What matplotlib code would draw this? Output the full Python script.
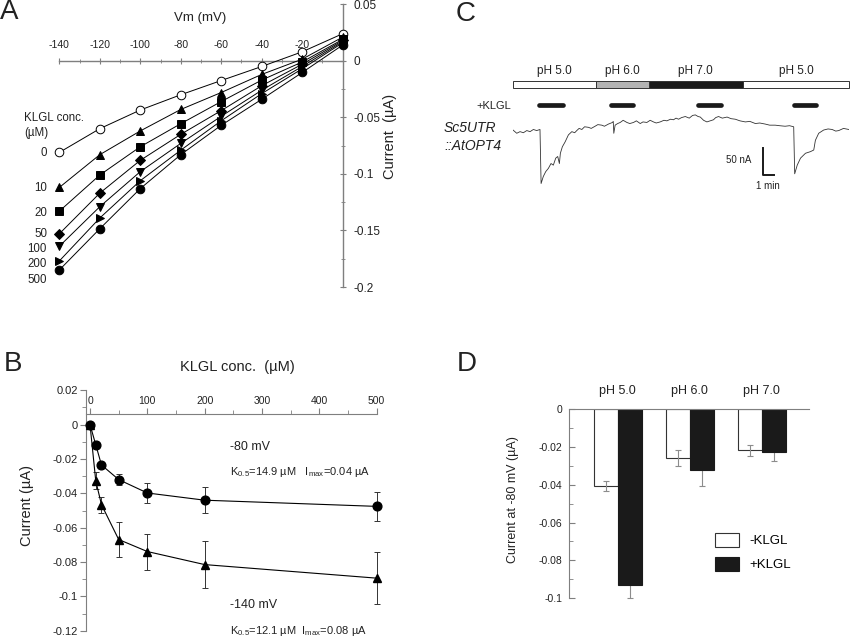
import matplotlib
matplotlib.use('Agg')
import matplotlib.pyplot as plt
import numpy as np
from matplotlib.patches import Patch
from matplotlib.ticker import MultipleLocator

plt.rcParams['font.family'] = ['Liberation Sans', 'DejaVu Sans']
plt.rcParams['mathtext.default'] = 'regular'

# ---- panel A: I-V curves at different KLGL concentrations
vm = [-140, -120, -100, -80, -60, -40, -20, 0]
klgl_conc = ['0', '10', '20', '50', '100', '200', '500']
iv_current = [
    [-0.081, -0.060, -0.0435, -0.030, -0.0174, -0.005, 0.008, 0.024],
    [-0.112, -0.083, -0.062, -0.043, -0.028, -0.012, 0.0015, 0.021],
    [-0.133, -0.101, -0.076, -0.0556, -0.036, -0.017, -0.001, 0.019],
    [-0.153, -0.117, -0.088, -0.065, -0.044, -0.022, -0.003, 0.018],
    [-0.164, -0.129, -0.098, -0.073, -0.049, -0.026, -0.005, 0.017],
    [-0.177, -0.139, -0.106, -0.079, -0.053, -0.029, -0.007, 0.016],
    [-0.185, -0.1485, -0.113, -0.083, -0.057, -0.034, -0.0103, 0.014],
]
iv_markers = ['o', '^', 's', 'D', 'v', '>', 'o']

# ---- panel B: dose response
conc = [0, 10, 20, 50, 100, 200, 500]
i_80 = [0, -0.0117, -0.0235, -0.032, -0.0398, -0.044, -0.0476]
i_80_err = [0, 0.0015, 0.002, 0.003, 0.006, 0.0074, 0.0085]
i_140 = [0, -0.0327, -0.0466, -0.0669, -0.0739, -0.0815, -0.0894]
i_140_err = [0, 0.005, 0.0047, 0.010, 0.0105, 0.0135, 0.0153]

# ---- panel C: current trace (time in min, current in nA)
trace_t = [0.0, 0.34, 0.64, 0.94, 1.25, 1.55, 1.85, 2.15, 2.45, 2.55, 2.75, 2.97,
           3.21, 3.45, 3.66, 3.88, 4.06, 4.21, 4.3, 4.48, 4.73, 5.03, 5.34, 5.6,
           5.79, 6.0, 6.25, 6.5, 6.85, 7.1, 7.45, 7.7, 8.06, 8.3, 8.66, 9.03,
           9.1, 9.15, 9.27, 9.5, 9.73, 10.0, 10.34, 10.6, 10.94, 11.2, 11.55,
           11.8, 12.15, 12.45, 12.75, 13.0, 13.36, 13.7, 13.97, 14.3, 14.57,
           14.8, 15.03, 15.3, 15.64, 16.0, 16.3, 16.55, 16.8, 17.0, 17.3, 17.6,
           17.9, 18.2, 18.4, 18.66, 19.0, 19.43, 19.8, 20.18, 20.6, 21.09, 21.5,
           22.0, 22.4, 22.9, 23.3, 23.8, 24.2, 24.7, 25.1, 25.48, 25.57, 25.8,
           26.1, 26.55, 27.0, 27.3, 27.45, 27.75, 28.2, 28.6, 28.97, 29.3,
           29.57, 30.0, 30.48]
trace_i = [0, -6, -3, -5, -1, -3, 1, -1, 1, -99, -86, -77,
           -71, -62, -65, -52, -49, -62, -43, -31, -22, -9, -3, -5,
           -1, 3, 1, 6, 5, 3, 7, 10, 9, 7, 11, 14,
           16, -6, 9, 12, 14, 18, 14, 12, 14, 17, 12,
           15, 14, 18, 15, 13, 15, 18, 17, 20, 19,
           22, 20, 23, 25, 22, 27, 28, 25, 24, 18, 15,
           17, 19, 23, 25, 22, 24, 21, 20, 17, 15, 16,
           12, 13, 11, 9, 9, 8, 7, 8, 6, -81, -65,
           -52, -43, -40, -37, -19, -6, 0, 2, 1, -2,
           -1, 3, 1]
ph_labels = ['pH 5.0', 'pH 6.0', 'pH 7.0', 'pH 5.0']
ph_edges = [0, 7.5, 12.3, 20.9, 30.5]
ph_colors = ['white', '#b3b3b3', '#1a1a1a', 'white']
klgl_on = [2.4, 8.9, 16.8, 25.5]
klgl_off = [4.5, 10.9, 18.9, 27.5]

# ---- panel D: pH dependence at -80 mV
ph_groups = ['pH 5.0', 'pH 6.0', 'pH 7.0']
minus_klgl = [-0.0407, -0.0258, -0.0218]
minus_err = [0.0026, 0.0042, 0.0027]
plus_klgl = [-0.0932, -0.0322, -0.0225]
plus_err = [0.0067, 0.0083, 0.0047]

W, H = 850, 640
fig = plt.figure(figsize=(W / 100, H / 100), dpi=100)


def box(x0, y0, x1, y1):
    return [x0 / W, 1 - y1 / H, (x1 - x0) / W, (y1 - y0) / H]


def ftext(x, y, s, **kw):
    fig.text(x / W, 1 - y / H, s, **kw)


axis_grey = '#7f7f7f'
txt = '#222222'

# ================= A
ax = fig.add_axes(box(59.3, 4.3, 342.7, 287))
ax.set_xlim(-140, 0)
ax.set_ylim(-0.2, 0.05)
for s in ['left', 'bottom']:
    ax.spines[s].set_visible(False)
ax.spines['top'].set_position(('data', 0))
for s in ['top', 'right']:
    ax.spines[s].set_color(axis_grey)
    ax.spines[s].set_linewidth(1)
ax.xaxis.tick_top()
ax.yaxis.tick_right()
ax.xaxis.set_major_locator(MultipleLocator(20))
ax.xaxis.set_minor_locator(MultipleLocator(10))
ax.yaxis.set_major_locator(MultipleLocator(0.05))
ax.yaxis.set_minor_locator(MultipleLocator(0.025))
ax.tick_params(which='both', direction='inout', color=axis_grey,
               labelcolor=txt)
ax.tick_params(axis='x', labelsize=7.5, pad=5)
ax.tick_params(axis='y', labelsize=8.5, pad=5)
ax.tick_params(which='major', length=5)
ax.tick_params(which='minor', length=3)
ax.set_xticks([-140, -120, -100, -80, -60, -40, -20])
ax.set_xticklabels(['-140', '-120', '-100', '-80', '-60', '-40', '-20'])
ax.set_yticks([0.05, 0, -0.05, -0.1, -0.15, -0.2])
ax.set_yticklabels(['0.05', '0', '-0.05', '-0.1', '-0.15', '-0.2'])
for k, (vals, m) in enumerate(zip(iv_current, iv_markers)):
    face = 'white' if k == 0 else 'black'
    ms = 4.8 if m == 'D' else 6.2
    ax.plot(vm, vals, '-', color='black', lw=0.7, marker=m, ms=ms,
            mfc=face, mec='black', mew=0.7, clip_on=False, zorder=3 + k)

ftext(200, 18, 'Vm (mV)', fontsize=9.5, ha='center', va='center', color=txt)
ftext(390, 136, 'Current  (µA)', fontsize=10.5, ha='center', va='center',
      rotation=90, color=txt)
ftext(0, 12, 'A', fontsize=20, ha='left', va='center', color=txt)
ftext(24, 118, 'KLGL conc.', fontsize=8.3, ha='left', va='center', color=txt)
ftext(24, 133, '(µM)', fontsize=8.3, ha='left', va='center', color=txt)
legend_y = [152.7, 188.3, 212.7, 234.3, 249.3, 264.3, 280]
for lab, yy in zip(klgl_conc, legend_y):
    ftext(47, yy, lab, fontsize=8.3, ha='right', va='center', color=txt)

# ================= B
ax = fig.add_axes(box(86, 390.3, 376.7, 630.7))
ax.set_xlim(-7, 500)
ax.set_ylim(-0.12, 0.02)
for s in ['right', 'bottom']:
    ax.spines[s].set_visible(False)
ax.spines['top'].set_position(('data', 0.0062))
for s in ['top', 'left']:
    ax.spines[s].set_color(axis_grey)
ax.xaxis.tick_top()
ax.xaxis.set_major_locator(MultipleLocator(100))
ax.xaxis.set_minor_locator(MultipleLocator(50))
ax.yaxis.set_major_locator(MultipleLocator(0.02))
ax.yaxis.set_minor_locator(MultipleLocator(0.01))
ax.tick_params(which='both', direction='out', color=axis_grey,
               labelcolor=txt)
ax.tick_params(axis='x', labelsize=7.5)
ax.tick_params(axis='y', labelsize=8)
ax.tick_params(which='major', length=4, pad=2)
ax.tick_params(which='minor', length=3)
ax.set_yticks([0.02, 0, -0.02, -0.04, -0.06, -0.08, -0.1, -0.12])
ax.set_yticklabels(['0.02', '0', '-0.02', '-0.04', '-0.06', '-0.08', '-0.1',
                    '-0.12'])
ax.errorbar(conc, i_80, yerr=i_80_err, fmt='-o', color='black', lw=0.8,
            ms=6.3, elinewidth=0.7, ecolor='#333333', capsize=2.5,
            capthick=0.7, clip_on=False, zorder=4)
ax.errorbar(conc, i_140, yerr=i_140_err, fmt='-^', color='black', lw=0.8,
            ms=6, elinewidth=0.7, ecolor='#333333', capsize=2.5,
            capthick=0.7, clip_on=False, zorder=3)

ftext(237, 366.7, 'KLGL conc.  (µM)', fontsize=10.5, ha='center',
      va='center', color=txt)
ftext(27, 505, 'Current (µA)', fontsize=10.5, ha='center', va='center',
      rotation=90, color=txt)
ftext(4, 364, 'B', fontsize=20, ha='left', va='center', color=txt)
ftext(230, 446.7, '-80 mV', fontsize=9, ha='left', va='center', color=txt)
ftext(230, 471.7, 'K$_{0.5}$=14.9 µM   I$_{max}$=0.04 µA', fontsize=8,
      ha='left', va='center', color=txt)
ftext(230, 605, '-140 mV', fontsize=9, ha='left', va='center', color=txt)
ftext(230, 631, 'K$_{0.5}$=12.1 µM  I$_{max}$=0.08 µA', fontsize=8,
      ha='left', va='center', color=txt)

# ================= C
ax = fig.add_axes(box(513, 60, 849, 190))
ax.set_xlim(0, 30.5)
ax.set_ylim(-111, 129.6)
ax.axis('off')
for k in range(len(ph_labels)):
    x0, x1 = ph_edges[k], ph_edges[k + 1]
    ax.add_patch(plt.Rectangle((x0, 77.2), x1 - x0, 13.5,
                               facecolor=ph_colors[k], edgecolor='#333333',
                               lw=0.7, clip_on=False))
    ax.text((x0 + x1) / 2, 109, ph_labels[k], fontsize=8.5, ha='center',
            va='center', color=txt)
for t0, t1 in zip(klgl_on, klgl_off):
    ax.plot([t0, t1], [47, 47], color='#1a1a1a', lw=3.4,
            solid_capstyle='round')
ax.plot(trace_t, trace_i, color='#333333', lw=0.6)
# scale bar: 50 nA, 1 min
ax.plot([22.66, 22.66, 23.66], [-33.3, -83.3, -83.3], color='#1a1a1a',
        lw=1.4)
ax.text(20.5, -55.6, '50 nA', fontsize=7, ha='center', va='center',
        color=txt)
ax.text(23.15, -103, '1 min', fontsize=7, ha='center', va='center',
        color=txt)
ftext(510.7, 106, '+KLGL', fontsize=8, ha='right', va='center', color=txt)
ftext(444, 128.3, 'Sc5UTR', fontsize=10, ha='left', va='center',
      style='italic', color=txt)
ftext(444, 145.7, '::AtOPT4', fontsize=10, ha='left', va='center',
      style='italic', color=txt)
ftext(456, 14, 'C', fontsize=20, ha='left', va='center', color=txt)

# ================= D
ax = fig.add_axes(box(569.3, 409.3, 809.3, 598))
xpos = np.arange(1, len(ph_groups) + 1)
bw = 1 / 3
ax.set_xlim(1 - 0.672, 3 + 0.661)
ax.set_ylim(-0.1, 0)
for s in ['right', 'bottom']:
    ax.spines[s].set_visible(False)
for s in ['top', 'left']:
    ax.spines[s].set_color(axis_grey)
ax.set_xticks([])
ax.yaxis.set_major_locator(MultipleLocator(0.02))
ax.yaxis.set_minor_locator(MultipleLocator(0.01))
ax.tick_params(which='both', direction='in', color=axis_grey, labelsize=7.5,
               labelcolor=txt, pad=5)
ax.tick_params(which='major', length=4)
ax.tick_params(which='minor', length=3)
ax.set_yticks([0, -0.02, -0.04, -0.06, -0.08, -0.1])
ax.set_yticklabels(['0', '-0.02', '-0.04', '-0.06', '-0.08', '-0.1'])
ax.bar(xpos - bw / 2, minus_klgl, width=bw, color='white', edgecolor='#333333',
       lw=0.8, zorder=2, label='-KLGL')
ax.bar(xpos + bw / 2, plus_klgl, width=bw, color='#1a1a1a',
       edgecolor='#1a1a1a', lw=0.8, zorder=2, label='+KLGL')
ax.errorbar(xpos - bw / 2, minus_klgl, yerr=minus_err, fmt='none',
            ecolor='#8c8c8c', elinewidth=0.8, capsize=2, capthick=0.8,
            zorder=3)
ax.errorbar(xpos + bw / 2, plus_klgl, yerr=plus_err, fmt='none',
            ecolor='#8c8c8c', elinewidth=0.8, capsize=2, capthick=0.8,
            zorder=1, clip_on=False)
for xp, lab in zip(xpos, ph_groups):
    ax.text(xp, 0.0097, lab, fontsize=9, ha='center', va='center',
            color=txt)
handles = [Patch(facecolor='white', edgecolor='#333333', lw=0.8),
           Patch(facecolor='#1a1a1a', edgecolor='#1a1a1a', lw=0.8)]
ax.legend(handles, ['-KLGL', '+KLGL'], loc='upper left',
          bbox_to_anchor=(715.3 / W, 1 - 532.7 / H),
          bbox_transform=fig.transFigure, frameon=False, fontsize=9.5,
          handlelength=1.8, handleheight=1.26, labelspacing=0.73,
          handletextpad=0.78, borderpad=0, borderaxespad=0)
ftext(513, 500, 'Current at -80 mV (µA)', fontsize=9, ha='center',
      va='center', rotation=90, color=txt)
ftext(457, 364, 'D', fontsize=20, ha='left', va='center', color=txt)

fig.savefig('out.png', dpi=100)
